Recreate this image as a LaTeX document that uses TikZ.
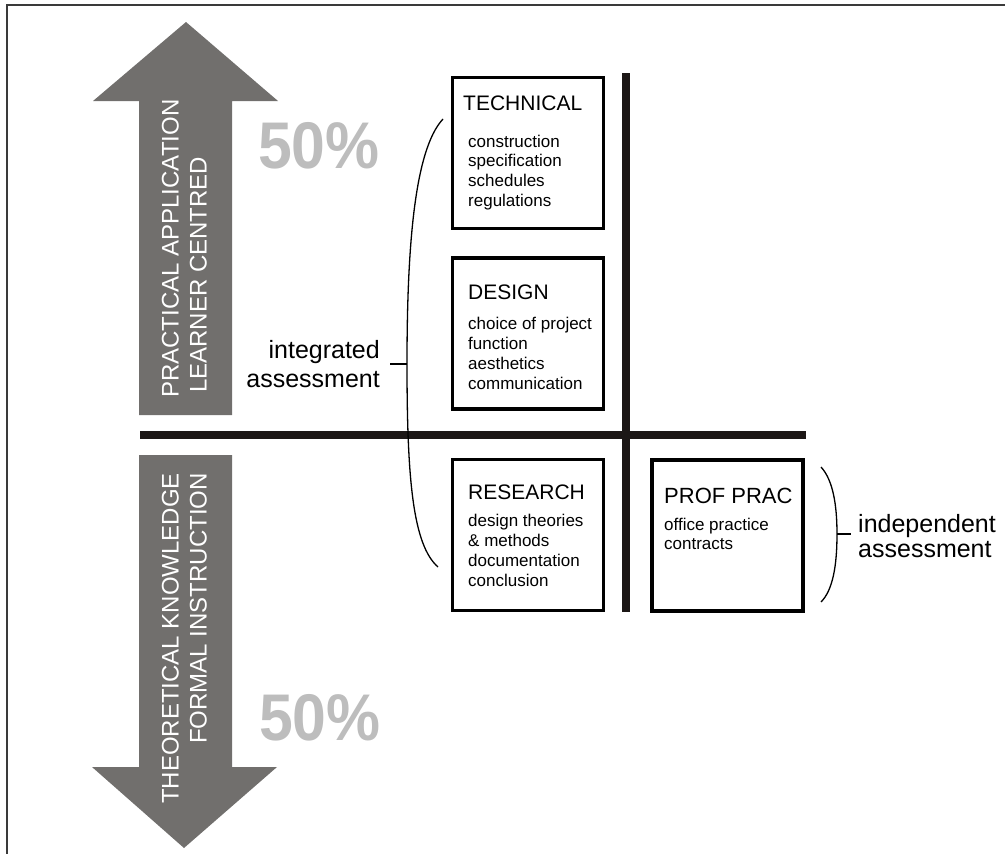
\documentclass[tikz,border=0pt]{standalone}
\usepackage{fontspec}
\setmainfont{Liberation Sans}
\definecolor{arrowgray}{HTML}{716F6D}
\definecolor{pctgray}{HTML}{BDBDBD}
\definecolor{bardark}{HTML}{1C1716}
\definecolor{framegray}{HTML}{3A3A3A}
\begin{document}
\begin{tikzpicture}[x=1pt,y=-1pt,
  box/.style={draw=black,line width=3.5pt,minimum width=151pt,minimum height=151pt,inner sep=0pt},
  boxtitle/.style={font=\fontsize{21}{24}\selectfont,inner sep=0pt,anchor=base west},
  boxitem/.style={font=\fontsize{17}{20}\selectfont,inner sep=0pt,anchor=base west},
  sidelabel/.style={font=\fontsize{25}{29}\selectfont,inner sep=0pt},
  arrowtext/.style={font=\fontsize{24}{28}\selectfont,text=white,inner sep=0pt,rotate=90},
  pct/.style={font=\fontsize{66}{70}\bfseries\selectfont,text=pctgray,inner sep=0pt,anchor=base},
  bracket/.style={draw=black,line width=1.3pt}]
\useasboundingbox (0,0) rectangle (1005,854);
% frame
\draw[framegray,line width=2pt] (7,854) -- (7,5) -- (1005,5);
% big arrows
\fill[arrowgray] (186,22) -- (278,101) -- (232,101) -- (232,415) -- (139,415) -- (139,101) -- (93,101) -- cycle;
\fill[arrowgray] (139,455) -- (232,455) -- (232,767) -- (277,767) -- (184,848) -- (92,767) -- (139,767) -- cycle;
\node[arrowtext,anchor=base west] (pa) at (178.5,398) {PRACTICAL APPLICATION};
\node[arrowtext,anchor=base west] (lc) at (206.5,393) {LEARNER CENTRED};
\node[arrowtext,anchor=base east] (tk) at (178.5,473) {THEORETICAL KNOWLEDGE};
\node[arrowtext,anchor=base east] (fi) at (206.5,473) {FORMAL INSTRUCTION};
% percentages
\node[pct] (pcttop) at (319,168) {\scalebox{0.92}[1]{50\%}};
\node[pct] (pctbot) at (320,740) {\scalebox{0.92}[1]{50\%}};
% axes bars
\fill[bardark] (140,431) rectangle (806,439);
\fill[bardark] (622,73) rectangle (630,612);
% boxes
\node[box] (tech) at (528,153) {};
\node[box] (design) at (528,333.5) {};
\node[box] (research) at (528,535) {};
\node[box] (prof) at (727.5,535.5) {};
% box texts
\node[boxtitle] (techT) at (463,110) {TECHNICAL};
\foreach \t [count=\i] in {construction,specification,schedules,regulations}
  \node[boxitem] (techI\i) at ({468},{147+(\i-1)*19.7}) {\t};
\node[boxtitle] (designT) at (468,299) {DESIGN};
\foreach \t [count=\i] in {choice of project,function,aesthetics,communication}
  \node[boxitem] (designI\i) at ({468},{329+(\i-1)*20}) {\t};
\node[boxtitle] (researchT) at (468,499) {RESEARCH};
\foreach \t [count=\i] in {design theories,\& methods,documentation,conclusion}
  \node[boxitem] (researchI\i) at ({468},{526+(\i-1)*20}) {\t};
\node[boxtitle,font=\fontsize{22}{25}\selectfont] (profT) at (664,503) {PROF PRAC};
\foreach \t [count=\i] in {office practice,contracts}
  \node[boxitem] (profI\i) at ({664},{530+(\i-1)*19.5}) {\t};
% side labels
\node[sidelabel,anchor=base east] (integ1) at (380,358) {integrated};
\node[sidelabel,anchor=base east] (integ2) at (380,387) {assessment};
\node[sidelabel,anchor=base west] (indep1) at (858,532) {independent};
\node[sidelabel,anchor=base west] (indep2) at (858,557) {assessment};
% brackets
\coordinate (lbTop) at (443,119);
\coordinate (lbMid) at (407,364);
\coordinate (lbBot) at (438,567);
\coordinate (lbTick) at (390,364);
\draw[bracket] (lbTop) .. controls (414,150) and (407,250) .. (lbMid)
  .. controls (407,480) and (413,545) .. (lbBot);
\draw[bracket] (lbTick) -- (lbMid);
\coordinate (rbTop) at (821,467);
\coordinate (rbMid) at (837,534);
\coordinate (rbBot) at (821,602);
\coordinate (rbTick) at (851,534);
\draw[bracket] (rbTop) .. controls (833,480) and (837,505) .. (rbMid)
  .. controls (837,565) and (833,590) .. (rbBot);
\draw[bracket] (rbMid) -- (rbTick);
\end{tikzpicture}
\end{document}
